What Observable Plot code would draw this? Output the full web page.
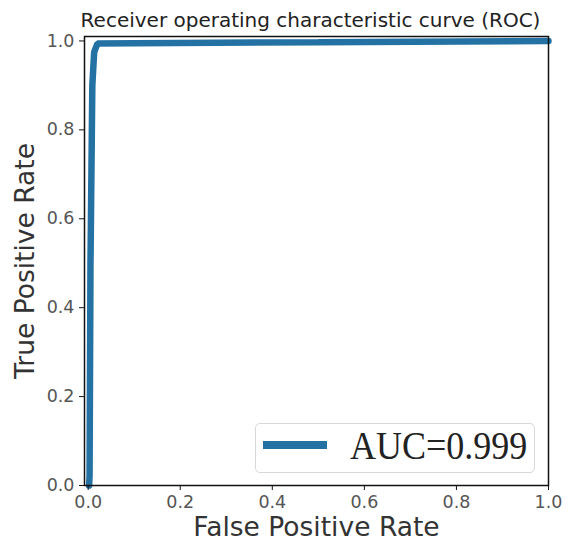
<!DOCTYPE html>
<html><head><meta charset="utf-8">
<script src="https://cdn.jsdelivr.net/npm/d3@7"></script>
<script src="https://cdn.jsdelivr.net/npm/@observablehq/plot@0.6"></script>
<style>
body{margin:0;background:#fff;}
#wrap{position:relative;width:568px;height:548px;}
#legend{position:absolute;left:255px;top:423px;width:280px;height:50px;border:1.5px solid #d8d8d8;border-radius:5px;background:rgba(255,255,255,0.85);box-sizing:border-box;}
#legend .sw{position:absolute;left:7px;top:17px;width:64px;height:8px;background:#2471a3;}
#legend .lb{position:absolute;left:94px;top:-1px;font-family:"Liberation Serif","DejaVu Serif",serif;font-size:40px;line-height:46px;color:#222;transform:scaleX(0.9);transform-origin:0 50%;white-space:nowrap;}
</style>
</head><body>
<div id="wrap"></div>
<script>
const title = "Receiver operating characteristic curve (ROC)";
const xLabel = "False Positive Rate";
const yLabel = "True Positive Rate";
const legendLabel = "AUC=0.999";
const fpr = [0.002, 0.003, 0.005, 0.009, 0.013, 0.02, 0.1, 0.5, 1.0];
const tpr = [0.0, 0.02, 0.5, 0.9, 0.975, 0.994, 0.995, 0.997, 1.0];
const ticks = [0, 0.2, 0.4, 0.6, 0.8, 1.0];

const data = fpr.map((x, i) => ({x, y: tpr[i]}));

const chart = Plot.plot({
  width: 568,
  height: 548,
  marginLeft: 84,
  marginRight: 20,
  marginTop: 36,
  marginBottom: 63,
  style: {fontFamily: "DejaVu Sans, sans-serif", fontSize: "17px", color: "#444", background: "#fff"},
  x: {domain: [-0.008, 1.0], ticks, tickFormat: ".1f", label: null},
  y: {domain: [0, 1.01], ticks, tickFormat: ".1f", label: null},
  marks: [
    Plot.line(data, {x: "x", y: "y", stroke: "#2471a3", strokeWidth: 6.5, strokeLinejoin: "miter"}),
    Plot.frame({stroke: "#111", strokeWidth: 1.5}),
    Plot.axisX({ticks, tickFormat: ".1f", tickSize: 5, tickPadding: 5, stroke: "#111", fill: "#555", fontSize: 17.5}),
    Plot.axisY({ticks, tickFormat: ".1f", tickSize: 5, tickPadding: 5, stroke: "#111", fill: "#555", fontSize: 17.5}),
    Plot.text([title], {frameAnchor: "top", lineAnchor: "middle", textAnchor: "middle", dy: -16, dx: -6, fontSize: 20, fill: "#222"}),
    Plot.text([xLabel], {frameAnchor: "bottom", lineAnchor: "middle", textAnchor: "middle", dy: 42, fontSize: 26.5, fill: "#333"}),
    Plot.text([yLabel], {frameAnchor: "left", lineAnchor: "middle", textAnchor: "middle", dx: -59, rotate: -90, fontSize: 26.5, fill: "#333"})
  ]
});
const wrap = document.getElementById("wrap");
wrap.appendChild(chart);
const leg = document.createElement("div");
leg.id = "legend";
leg.innerHTML = `<div class="sw"></div><div class="lb"></div>`;
leg.querySelector(".lb").textContent = legendLabel;
wrap.appendChild(leg);
</script>
</body></html>
